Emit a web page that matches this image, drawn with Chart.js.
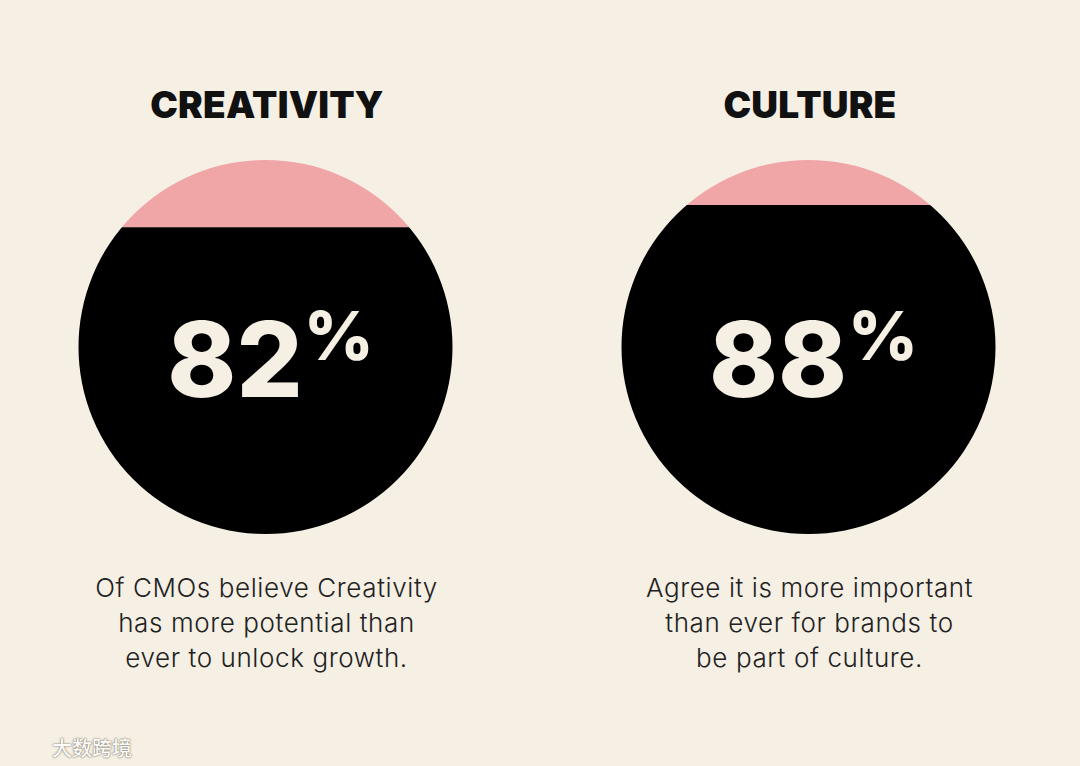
<!DOCTYPE html>
<html>
<head>
<meta charset="utf-8">
<title>CMO survey: Creativity and Culture</title>
<script src="https://cdn.jsdelivr.net/npm/chart.js@4.4.1/dist/chart.umd.min.js"></script>
<style>
  html, body { margin: 0; padding: 0; width: 1080px; height: 766px; overflow: hidden; background: #f5efe4; }
  .title {
    position: absolute; top: 82px; width: 400px; text-align: center;
    font-family: Inter, "Noto Sans", sans-serif; font-weight: 900; font-size: 37px;
    line-height: 46px; color: #111; letter-spacing: 0.2px;
  }
  .caption {
    position: absolute; top: 570px; width: 460px; text-align: center;
    font-family: Inter, "Noto Sans", sans-serif; font-weight: 300; font-size: 26px;
    line-height: 35px; color: #222; letter-spacing: 0.6px;
  }
  .mark {
    position: absolute; left: 52px; top: 733px;
    font-family: "Noto Sans CJK SC", sans-serif; font-size: 20px; font-weight: 500;
    color: #fdfbf7; text-shadow: 0 0 2px rgba(90,80,70,0.8), 0 0 1px rgba(90,80,70,0.6);
  }
  #wrap { position: absolute; left: -6px; top: 160px; width: 1086px; height: 374px; }
</style>
</head>
<body>
<div id="wrap"><canvas id="chart"></canvas></div>
<div class="mark">大数跨境</div>
<script>
// Survey topics and the share of CMOs who agree (in percent)
const topics = ['CREATIVITY', 'CULTURE'];
const agreeShare = [82, 88];
const restShare = [18, 12];
const captions = [
  ['Of CMOs believe Creativity', 'has more potential than', 'ever to unlock growth.'],
  ['Agree it is more important', 'than ever for brands to', 'be part of culture.']
];

const BG = '#f5efe4';
const INK = '#000000';
const PINK = '#f0a6a6';

// Clip every bar to a circle whose diameter is the full 0–100 range of the y scale
const circleClip = {
  id: 'circleClip',
  beforeDatasetsDraw(chart) {
    const ctx = chart.ctx;
    const y = chart.scales.y;
    const top = y.getPixelForValue(100), bottom = y.getPixelForValue(0);
    const cy = (top + bottom) / 2, r = (bottom - top) / 2;
    ctx.save();
    ctx.beginPath();
    chart.getDatasetMeta(0).data.forEach(bar => {
      ctx.moveTo(bar.x + r, cy);
      ctx.arc(bar.x, cy, r, 0, Math.PI * 2);
    });
    ctx.clip();
  },
  afterDatasetsDraw(chart) {
    chart.ctx.restore();
  }
};

// Big percentage figure in the middle of each circle, with a raised % sign
const centerFigure = {
  id: 'centerFigure',
  afterDraw(chart) {
    const ctx = chart.ctx;
    const y = chart.scales.y;
    const cy = (y.getPixelForValue(100) + y.getPixelForValue(0)) / 2;
    const values = chart.data.datasets[0].data;
    chart.getDatasetMeta(0).data.forEach((bar, i) => {
      const num = String(values[i]);
      ctx.save();
      ctx.fillStyle = BG;
      ctx.textBaseline = 'alphabetic';
      ctx.textAlign = 'left';
      const numFont = '800 104px Inter, "Noto Sans", sans-serif';
      const pctFont = '800 68px Inter, "Noto Sans", sans-serif';
      ctx.font = numFont;
      const wN = ctx.measureText(num).width;
      ctx.font = pctFont;
      const wP = ctx.measureText('%').width;
      const gap = 1;
      const x0 = bar.x + 5 - (wN + gap + wP) / 2;
      ctx.font = numFont;
      ctx.fillText(num, x0, cy + 50);
      ctx.font = pctFont;
      ctx.fillText('%', x0 + wN + gap, cy + 13);
      ctx.restore();
    });
  }
};

new Chart(document.getElementById('chart'), {
  type: 'bar',
  data: {
    labels: topics,
    datasets: [
      { label: 'Agree', data: agreeShare, backgroundColor: INK, borderWidth: 0 },
      { label: 'Other', data: restShare, backgroundColor: PINK, borderWidth: 0 }
    ]
  },
  options: {
    responsive: true,
    maintainAspectRatio: false,
    animation: false,
    events: [],
    layout: { padding: 0 },
    datasets: { bar: { barPercentage: 0.75, categoryPercentage: 1 } },
    scales: {
      x: { display: false, stacked: true },
      y: { display: false, stacked: true, min: 0, max: 100 }
    },
    plugins: { legend: { display: false }, tooltip: { enabled: false }, title: { display: false } }
  },
  plugins: [circleClip, centerFigure]
});

// Topic headings and captions, centred over each circle
const centers = [265.5, 808.5];
topics.forEach((t, i) => {
  const h = document.createElement('div');
  h.className = 'title';
  h.textContent = t;
  h.style.left = (centers[i] + 1.5 - 200) + 'px';
  document.body.appendChild(h);
  const c = document.createElement('div');
  c.className = 'caption';
  c.innerHTML = captions[i].join('<br>');
  c.style.left = (centers[i] + 1 - 230) + 'px';
  document.body.appendChild(c);
});
</script>
</body>
</html>
